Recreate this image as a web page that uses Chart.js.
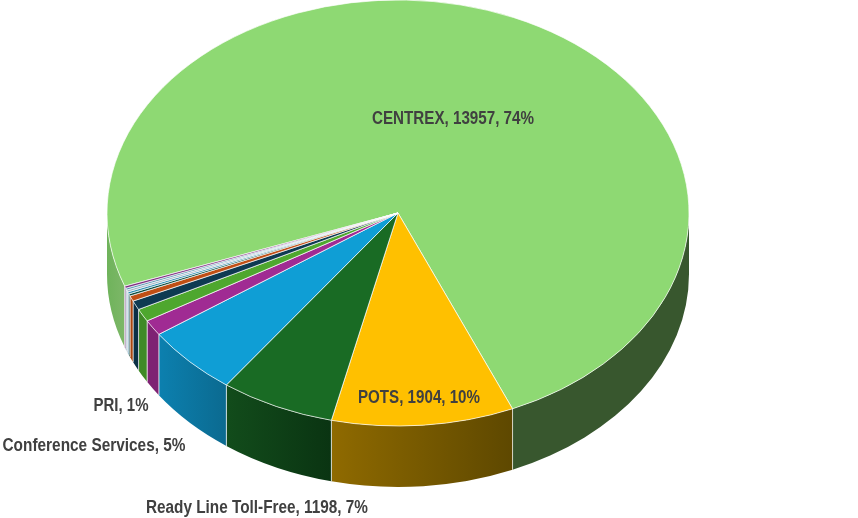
<!DOCTYPE html>
<html>
<head>
<meta charset="utf-8">
<style>
  html, body { margin: 0; padding: 0; background: #ffffff; overflow: hidden; }
  canvas { display: block; }
</style>
<script src="https://cdn.jsdelivr.net/npm/chart.js@4/dist/chart.umd.min.js"></script>
</head>
<body>
<canvas id="pieChart" width="858" height="518"></canvas>
<script>
// data (small slices have no label, so names are placeholders)
const categories = ['CENTREX', 'POTS', 'Ready Line Toll-Free', 'Conference Services', 'PRI',
    'Other A', 'Other B', 'Other C', 'Other D', 'Other E', 'Other F', 'Other G', 'Other H'];
const values = [13957, 1904, 1198, 1000, 225, 183, 131, 78, 32, 30, 28, 28, 30];
const percents = ['74%', '10%', '7%', '5%', '1%'];

// styles
const topColors = ['#8ED973', '#FFC000', '#196B24', '#0F9ED5', '#A02B93', '#4EA72E', '#0E3A52',
    '#C04F15', '#0F4D3C', '#2F8FB0', '#9FB4C4', '#5B9BB5', '#7B2A7E'];
const wallLeft = ['#38572E', '#8F6A00', '#124C1B', '#0C80AF', '#7E2273', '#3F8A26', '#0B2F45',
    '#A8450F', '#0D3F32', '#27789A', '#8FA2B0', '#4D88A0', '#66246A'];
const wallRight = ['#38572E', '#5E4800', '#0A3412', '#0B6A90', '#7E2273', '#3F8A26', '#0B2F45',
    '#A8450F', '#0D3F32', '#27789A', '#8FA2B0', '#4D88A0', '#66246A'];
const centrexLeftWall = ['#6FB35B', '#7DB768'];

const squash = 213 / 291;
const depth = 61;

// label text and where it sits
const labelTexts = [
    `${categories[0]}, ${values[0]}, ${percents[0]}`,
    `${categories[1]}, ${values[1]}, ${percents[1]}`,
    `${categories[2]}, ${values[2]}, ${percents[2]}`,
    `${categories[3]}, ${percents[3]}`,
    `${categories[4]}, ${percents[4]}`
];
const labelCenters = [[453, 119], [419, 398], [257, 508], [94, 446], [121, 406]];
const labelWidths = [162, 122, 222, 183, 55];

function drawWalls(ctx, arc, i) {
    const { x, y, startAngle, endAngle, outerRadius } = arc.getProps(['x', 'y', 'startAngle', 'endAngle', 'outerRadius'], true);
    const rx = outerRadius;
    const ry = outerRadius * squash;
    // the side is only seen on the front half of the pie
    [[0, Math.PI], [2 * Math.PI, 3 * Math.PI]].forEach(([lo, hi]) => {
        const a1 = Math.max(startAngle, lo);
        const a2 = Math.min(endAngle, hi);
        if (a2 <= a1) return;

        const x1 = x + rx * Math.cos(a1);
        const x2 = x + rx * Math.cos(a2);
        const left = Math.min(x1, x2);
        const right = Math.max(x1, x2);
        const grad = ctx.createLinearGradient(left, 0, right, 0);
        if (i === 0 && left < x) {
            grad.addColorStop(0, centrexLeftWall[0]);
            grad.addColorStop(1, centrexLeftWall[1]);
        } else {
            grad.addColorStop(0, wallLeft[i]);
            grad.addColorStop(1, wallRight[i]);
        }

        ctx.beginPath();
        ctx.ellipse(x, y, rx, ry, 0, a1, a2);
        ctx.ellipse(x, y + depth, rx, ry, 0, a2, a1, true);
        ctx.closePath();
        ctx.fillStyle = grad;
        ctx.fill();

        // pale seams between neighbouring walls
        ctx.strokeStyle = 'rgba(255,255,255,0.6)';
        ctx.lineWidth = 1;
        [a1, a2].forEach(a => {
            if (a === lo || a === hi) return;
            const sx = x + rx * Math.cos(a);
            const sy = y + ry * Math.sin(a);
            ctx.beginPath();
            ctx.moveTo(sx, sy);
            ctx.lineTo(sx, sy + depth);
            ctx.stroke();
        });
    });
}

const pie3d = {
    id: 'pie3d',
    beforeDatasetsDraw(chart) {
        const ctx = chart.ctx;
        const arcs = chart.getDatasetMeta(0).data;
        arcs.forEach((arc, i) => drawWalls(ctx, arc, i));
        // flatten the pie itself into the tilted top face
        const cy = arcs[0].y;
        ctx.save();
        ctx.translate(0, cy);
        ctx.scale(1, squash);
        ctx.translate(0, -cy);
    },
    afterDatasetsDraw(chart) {
        const ctx = chart.ctx;
        ctx.restore();
        ctx.save();
        ctx.font = 'bold 18px "Liberation Sans Narrow", "Liberation Sans", sans-serif';
        ctx.fillStyle = '#404040';
        ctx.textAlign = 'center';
        ctx.textBaseline = 'middle';
        labelTexts.forEach((t, i) => {
            ctx.fillText(t, labelCenters[i][0], labelCenters[i][1], labelWidths[i]);
        });
        ctx.restore();
    }
};

new Chart(document.getElementById('pieChart').getContext('2d'), {
    type: 'pie',
    data: {
        labels: categories,
        datasets: [{
            data: values,
            backgroundColor: topColors,
            borderColor: '#ffffff',
            borderWidth: 0.8,
            clip: false
        }]
    },
    options: {
        responsive: false,
        animation: false,
        events: [],
        rotation: 249.9,
        radius: 291,
        layout: { padding: { right: 62, bottom: 92 } },
        plugins: {
            legend: { display: false },
            tooltip: { enabled: false }
        }
    },
    plugins: [pie3d]
});
</script>
</body>
</html>
